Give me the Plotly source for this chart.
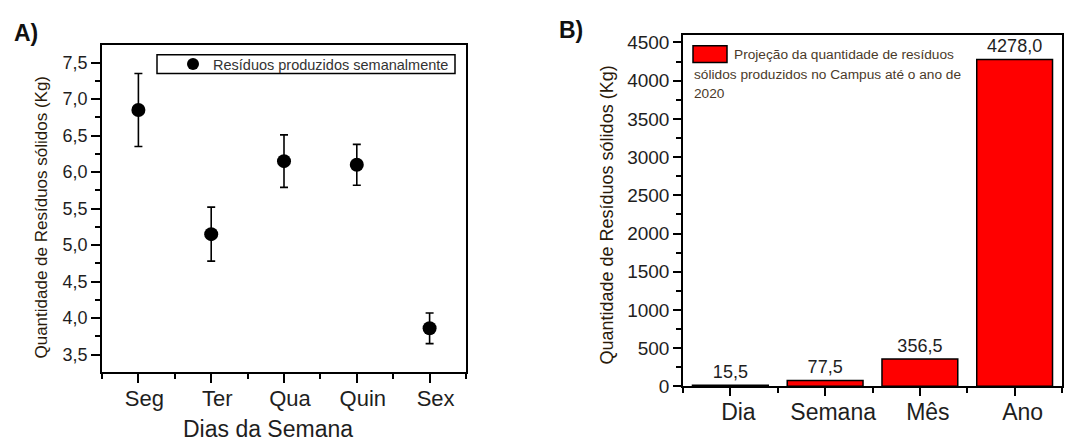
import plotly.graph_objects as go

# ---------------- data ----------------
dias = ["Seg", "Ter", "Qua", "Quin", "Sex"]
residuos = [6.85, 5.15, 6.15, 6.10, 3.86]
erros = [0.50, 0.37, 0.36, 0.28, 0.21]
a_tickvals = [3.5, 4.0, 4.5, 5.0, 5.5, 6.0, 6.5, 7.0, 7.5]
a_ticktext = ["3,5", "4,0", "4,5", "5,0", "5,5", "6,0", "6,5", "7,0", "7,5"]

periodos = ["Dia", "Semana", "Mês", "Ano"]
projecao = [15.5, 77.5, 356.5, 4278.0]
b_tickvals = [0, 500, 1000, 1500, 2000, 2500, 3000, 3500, 4000, 4500]

W, H = 1074, 441
FIG_H = 451
FONT = "Arial, 'Liberation Sans', sans-serif"
TXT = "#1e1e1e"


def px(x):
    return x / W


def py(y):
    return 1 - y / H


fig = go.Figure()

fig.add_trace(go.Scatter(
    x=list(range(len(dias))), y=residuos, mode="markers",
    marker=dict(color="black", size=14),
    error_y=dict(type="data", array=erros, color="black", thickness=1.6, width=4),
    name="Resíduos produzidos semanalmente",
    xaxis="x", yaxis="y", legend="legend",
))

fig.add_trace(go.Bar(
    x=list(range(len(periodos))), y=projecao, width=0.8,
    marker=dict(color="#ff0000", line=dict(color="black", width=1.5)),
    text=[f"{v:.1f}".replace(".", ",") for v in projecao],
    textposition="outside", textfont=dict(size=18, color=TXT, family=FONT),
    cliponaxis=False, showlegend=False,
    xaxis="x2", yaxis="y2",
))

axis_common = dict(showline=True, linecolor="black", linewidth=1.5, mirror=True,
                   ticks="outside", tickcolor="black", tickwidth=1.5,
                   showgrid=False, zeroline=False)

fig.update_layout(
    width=W, height=FIG_H,
    margin=dict(l=0, r=0, t=0, b=0),
    paper_bgcolor="white", plot_bgcolor="white",
    font=dict(family=FONT, color="black"),
    xaxis=dict(domain=[px(102), px(466)], range=[-0.5, 4.5],
               tickmode="array", tickvals=list(range(len(dias))), ticktext=dias,
               ticklen=9, tickfont=dict(size=22, color=TXT), ticklabelshift=6,
               ticklabelstandoff=-4,
               minor=dict(tickmode="array", tickvals=[-0.5, 0.5, 1.5, 2.5, 3.5, 4.5],
                          ticklen=5, tickwidth=1.5, tickcolor="black", ticks="outside"),
               anchor="y", **axis_common),
    yaxis=dict(domain=[py(373), py(43)], range=[3.255, 7.745],
               tickmode="array", tickvals=a_tickvals, ticktext=a_ticktext,
               ticklen=9, tickfont=dict(size=18, color=TXT),
               minor=dict(dtick=0.25, tick0=0, ticklen=5, tickwidth=1.5, tickcolor="black", ticks="outside"),
               anchor="x", **axis_common),
    xaxis2=dict(domain=[px(683), px(1062)], range=[-0.5, 3.5],
                tickmode="array", tickvals=list(range(len(periodos))), ticktext=periodos,
                ticklen=8, tickfont=dict(size=23, color=TXT), ticklabelshift=8,
                ticklabelstandoff=-4,
                minor=dict(tickmode="array", tickvals=[-0.5, 0.5, 1.5, 2.5, 3.5],
                           ticklen=5, tickwidth=1.5, tickcolor="black", ticks="outside"),
                anchor="y2", **axis_common),
    yaxis2=dict(domain=[py(387), py(33)], range=[0, 4600],
                tickmode="array", tickvals=b_tickvals,
                ticklen=8, tickfont=dict(size=19, color=TXT),
                minor=dict(dtick=250, tick0=0, ticklen=5, tickwidth=1.5, tickcolor="black", ticks="outside"),
                anchor="x2", **axis_common),
    legend=dict(x=px(173), y=py(62.5), xanchor="left", yanchor="middle",
                borderwidth=0, bgcolor="rgba(0,0,0,0)",
                font=dict(size=14.5, color="#333"), itemsizing="constant",
                tracegroupgap=0),
)

annotations = [
    dict(text="<b>A)</b>", x=px(26), y=py(31), font=dict(size=23, color="#111")),
    dict(text="<b>B)</b>", x=px(571), y=py(28), font=dict(size=23, color="#111")),
    dict(text="Quantidade de Resíduos sólidos (Kg)", x=px(42), y=py(217), textangle=-90,
         font=dict(size=17, color="#2a1a0a")),
    dict(text="Quantidade de Resíduos sólidos (Kg)", x=px(607), y=py(215), textangle=-90,
         font=dict(size=18, color="#2a1a0a")),
    dict(text="Dias da Semana", x=px(268), y=py(430), font=dict(size=23, color=TXT)),
    dict(text="Projeção da quantidade de resíduos", x=px(732), y=py(53), xanchor="left",
         font=dict(size=13.7, color="#4a3a2a")),
    dict(text="sólidos produzidos no Campus até o ano de", x=px(692), y=py(73), xanchor="left",
         font=dict(size=13.7, color="#4a3a2a")),
    dict(text="2020", x=px(692), y=py(92), xanchor="left",
         font=dict(size=13.7, color="#4a3a2a")),
]
for a in annotations:
    a.setdefault("xanchor", "center")
    a.setdefault("yanchor", "middle")
    a.update(xref="paper", yref="paper", showarrow=False)
fig.update_layout(annotations=annotations)

# legend frame for panel A
fig.add_shape(type="rect", xref="paper", yref="paper",
              x0=px(157), x1=px(455), y0=py(72), y1=py(53),
              fillcolor="rgba(0,0,0,0)", line=dict(color="black", width=1.5))
# legend swatch for panel B
fig.add_shape(type="rect", xref="paper", yref="paper",
              x0=px(693), x1=px(727), y0=py(61), y1=py(44),
              fillcolor="#ff0000", line=dict(color="black", width=1.5))

fig.write_html(
    "out.html",
    config={"displayModeBar": False},
    post_script=("document.documentElement.style.margin='0';"
                 "document.body.style.margin='0';"
                 "document.documentElement.style.overflow='hidden';"
                 "document.body.style.overflow='hidden';"),
)
